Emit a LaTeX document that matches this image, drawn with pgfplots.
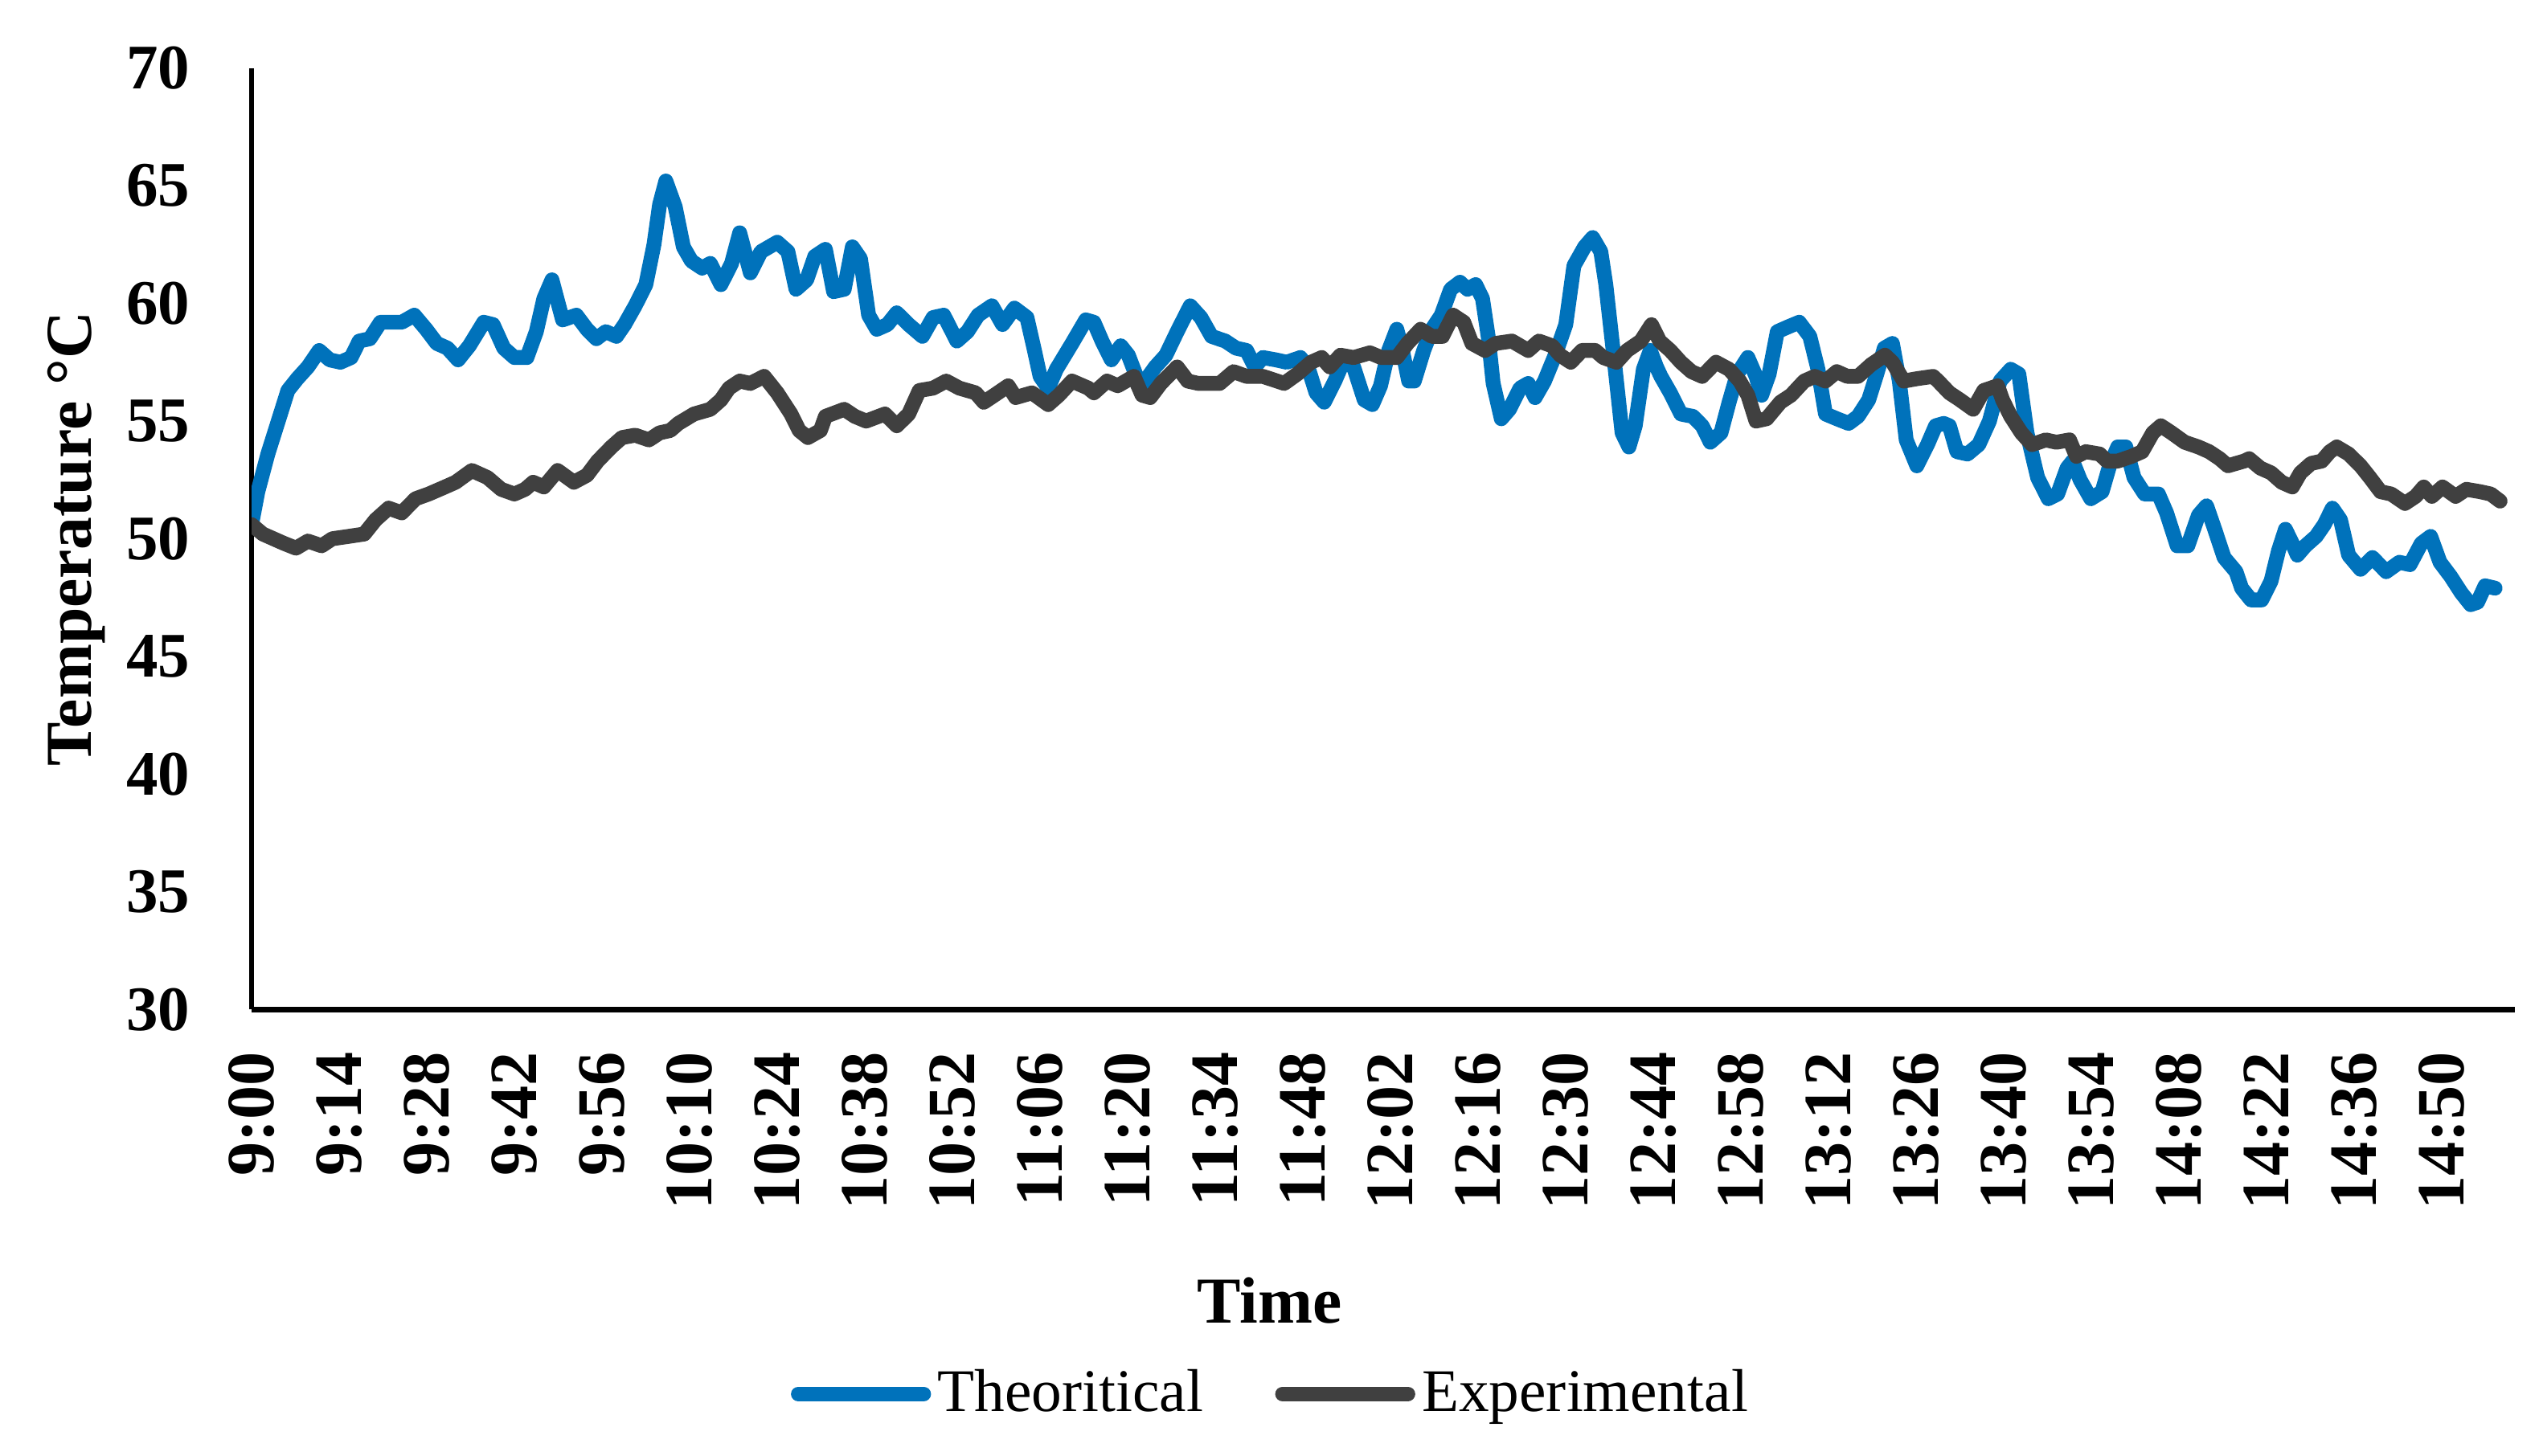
\documentclass[border=0pt]{standalone}
\usepackage{fontspec}
\setmainfont{Liberation Serif}
\usepackage{pgfplots}
\pgfplotsset{compat=1.18}
\definecolor{theo}{RGB}{0,114,187}
\definecolor{expe}{RGB}{64,64,64}
\begin{document}
\begin{tikzpicture}
\path[use as bounding box] (0,0) rectangle (600pt,344pt);
\begin{axis}[
  at={(59.45pt,105.4pt)}, anchor=south west,
  scale only axis, width=534.9pt, height=222.5pt,
  xmin=0, xmax=361.7, ymin=30, ymax=70,
  axis x line*=bottom, axis y line*=left,
  axis line style={line width=1.3pt, black, -},
  ytick={30,35,...,70},
  xtick={0,14,...,350},
  xticklabels={9:00,9:14,9:28,9:42,9:56,10:10,10:24,10:38,10:52,11:06,11:20,11:34,11:48,12:02,12:16,12:30,12:44,12:58,13:12,13:26,13:40,13:54,14:08,14:22,14:36,14:50},
  major tick length=0pt,
  tick style={draw=none},
  /pgf/number format/assume math mode=true,
  yticklabel style={font=\bfseries\fontsize{15}{18}\selectfont, inner sep=0pt, anchor=east},
  yticklabel shift=14.4pt,
  xticklabel style={font=\bfseries\fontsize{16}{19}\selectfont, rotate=90, anchor=east, inner sep=0pt},
  xticklabel shift=9.9pt,
  xlabel={Time}, ylabel={Temperature °C},
  xlabel style={at={(axis description cs:0.4497,-0.3335)}, anchor=base, font=\bfseries\fontsize{15.5}{18}\selectfont, inner sep=0pt},
  ylabel style={at={(axis description cs:-0.0709,0.5)}, anchor=base, font=\bfseries\fontsize{15.5}{18}\selectfont, inner sep=0pt},
  legend columns=2,
  legend style={at={(0.2383,-0.4085)}, anchor=west, draw=none, fill=none, inner sep=0pt, outer sep=0pt,
    font=\fontsize{14.3}{16}\selectfont, nodes={inner sep=0pt},
    /tikz/every odd column/.append style={column sep=1.6pt},
    /tikz/every even column/.append style={column sep=17pt}},
  legend image code/.code={\draw[#1, line cap=round] (0pt,0pt) -- (29.6pt,0pt);},
]
\addplot[theo, line width=3.5pt, line join=round, line cap=round] coordinates {
(0,50.6) (1,52.0) (2.6,53.6) (4.5,55.2) (5.8,56.3) (7.3,56.8) (9,57.3) (10.8,58.0) (12.5,57.6) (14.2,57.5) (15.9,57.7) (17.2,58.4) (18.9,58.5) (20.6,59.2) (22.3,59.2) (24,59.2) (26,59.5) (27.9,58.9) (29.6,58.3) (31.3,58.1) (33,57.6) (34.8,58.2) (37.1,59.2) (38.6,59.1) (40.3,58.1) (42,57.7) (44,57.7) (45.5,58.8) (46.7,60.2) (48,61.0) (49.7,59.3) (51.9,59.5) (53.6,58.9) (55.1,58.5) (56.6,58.8) (58.3,58.6) (59.6,59.1) (61.3,59.9) (63,60.8) (64.3,62.5) (65.2,64.2) (66.2,65.2) (67.7,64.1) (69,62.4) (70.3,61.8) (72,61.5) (73.3,61.7) (75,60.8) (76.7,61.7) (78,63.0) (79.7,61.3) (81.4,62.2) (84,62.6) (85.7,62.2) (87,60.6) (88.7,61.0) (90,62.0) (91.7,62.3) (93,60.5) (94.7,60.6) (96,62.4) (97.3,61.9) (98.6,59.5) (99.9,58.9) (101.6,59.1) (103.1,59.6) (105,59.1) (107.2,58.6) (108.9,59.4) (110.6,59.5) (112.7,58.4) (114.4,58.8) (116.1,59.5) (118.3,59.9) (120,59.1) (121.9,59.8) (123.9,59.4) (125.1,58.0) (126,56.9) (127.3,56.4) (128.6,57.2) (131.1,58.3) (133.3,59.3) (134.6,59.2) (135.9,58.4) (137.4,57.6) (138.9,58.2) (140.1,57.8) (141.4,56.9) (142.5,56.6) (144.4,57.3) (146.1,57.8) (147.9,58.8) (150,59.9) (151.7,59.4) (153.4,58.6) (155.6,58.4) (157.3,58.1) (159,58.0) (160.3,57.3) (161.6,57.7) (163.7,57.6) (165.4,57.5) (167.6,57.7) (168.8,57.3) (170.1,56.2) (171.4,55.8) (173.1,56.7) (174.4,57.5) (176.1,57.3) (177.8,55.9) (179.1,55.7) (180.4,56.5) (181.7,58.0) (183,58.9) (183.9,58.0) (184.9,56.7) (185.8,56.7) (187.3,58.0) (188.6,58.9) (190.1,59.5) (191.6,60.6) (193.1,60.9) (194.3,60.6) (195.6,60.8) (196.7,60.2) (197.6,58.6) (198.4,56.6) (199.7,55.1) (201,55.5) (202.7,56.4) (204,56.6) (205.1,56.0) (206.6,56.7) (208.3,57.8) (210,59.1) (211.3,61.6) (213,62.4) (214.3,62.8) (215.6,62.2) (216.4,60.8) (217.7,57.7) (219,54.5) (220.1,53.9) (221.1,54.8) (222.4,57.2) (223.5,58.0) (224.5,57.3) (225.2,56.9) (226.7,56.2) (228.4,55.3) (230.3,55.2) (231.8,54.8) (233.1,54.1) (234.8,54.5) (236.1,55.8) (237.4,57.0) (239.1,57.7) (240.4,56.9) (241.3,56.1) (242.5,57.0) (243.8,58.8) (245.5,59.0) (247.3,59.2) (249,58.6) (250.3,57.2) (251.5,55.3) (253.3,55.1) (255.2,54.9) (256.7,55.2) (258.4,55.9) (259.7,57.0) (260.9,58.1) (262.2,58.3) (263.3,56.7) (264.4,54.2) (266.1,53.1) (267.8,54.0) (269.1,54.8) (270.4,54.9) (271.3,54.8) (272.5,53.7) (274.2,53.6) (276,54.0) (277.7,55.0) (279.4,56.7) (281.1,57.2) (282.4,57.0) (283.7,54.5) (285.4,52.6) (287.1,51.7) (288.6,51.9) (290.1,53.0) (291,53.3) (292.2,52.5) (293.9,51.7) (295.7,52.0) (296.9,53.1) (298.2,53.9) (299.5,53.9) (300.8,52.6) (302.5,51.9) (304.7,51.9) (306,51.1) (307.7,49.7) (309.4,49.7) (311.1,51.0) (312.4,51.4) (313.7,50.4) (315.2,49.2) (317.1,48.6) (318,47.9) (319.5,47.4) (321.2,47.4) (322.7,48.2) (323.9,49.5) (325,50.4) (326.1,49.8) (326.9,49.3) (328.2,49.7) (329.9,50.1) (331.2,50.6) (332.5,51.3) (333.8,50.8) (335.1,49.3) (337,48.7) (338.9,49.2) (341.1,48.6) (343.2,49.0) (344.9,48.9) (346.7,49.8) (348.2,50.1) (349.7,49.0) (351.4,48.4) (353.1,47.7) (354.6,47.2) (355.7,47.3) (356.9,48.0) (358.5,47.9)
};
\addlegendentry{Theoritical}
\addplot[expe, line width=3.5pt, line join=round, line cap=round] coordinates {
(0,50.6) (1.8,50.2) (3.5,50.0) (5.2,49.8) (7.1,49.6) (9,49.9) (11.2,49.7) (12.9,50.0) (15.5,50.1) (18,50.2) (19.8,50.8) (21.9,51.3) (24,51.1) (26.2,51.7) (28.3,51.9) (30.9,52.2) (32.6,52.4) (35.2,52.9) (37.7,52.6) (39.9,52.1) (42,51.9) (43.7,52.1) (45,52.4) (46.7,52.2) (48.9,52.9) (51.5,52.4) (53.6,52.7) (55.3,53.3) (57.5,53.9) (59.2,54.3) (61.3,54.4) (63.5,54.2) (65.2,54.5) (66.9,54.6) (68.2,54.9) (70.7,55.3) (73.3,55.5) (75,55.9) (76.3,56.4) (78,56.7) (79.7,56.6) (81.9,56.9) (84,56.2) (86.2,55.3) (87.5,54.6) (88.9,54.3) (90.9,54.6) (91.7,55.2) (94.7,55.5) (96.4,55.2) (98.2,55.0) (101.2,55.3) (103.1,54.8) (105,55.3) (106.7,56.3) (108.9,56.4) (111,56.7) (113.1,56.4) (115.7,56.2) (117,55.8) (118.7,56.1) (120.9,56.5) (122.1,56.0) (124.7,56.2) (127.3,55.7) (129,56.1) (131.1,56.7) (133.7,56.4) (134.6,56.2) (136.7,56.7) (138.4,56.5) (141,56.9) (142.3,56.1) (143.6,56.0) (145.3,56.6) (147.9,57.3) (149.6,56.7) (151.3,56.6) (154.7,56.6) (156.9,57.1) (159,56.9) (161.6,56.9) (165,56.6) (167.1,57.0) (169.3,57.5) (171,57.7) (172.3,57.3) (174,57.8) (176.1,57.7) (178.7,57.9) (180.5,57.7) (183,57.7) (184.7,58.3) (186.8,58.9) (188.6,58.6) (190.3,58.6) (192,59.5) (193.7,59.2) (195,58.3) (197.1,58.0) (198.8,58.3) (201.4,58.4) (204,58.0) (205.7,58.4) (207.8,58.2) (209.1,57.8) (210.8,57.5) (212.6,58.0) (214.7,58.0) (216,57.7) (218.1,57.5) (219.8,58.0) (222,58.4) (223.7,59.1) (225,58.4) (226.7,58.0) (228.4,57.5) (230.1,57.1) (231.8,56.9) (234,57.5) (236.1,57.2) (237.8,56.7) (239.1,56.1) (240.4,55.0) (242.1,55.1) (244.3,55.8) (246,56.1) (248.1,56.7) (249.8,56.9) (251.5,56.7) (253.3,57.1) (255,56.9) (256.7,56.9) (258.8,57.4) (261,57.8) (262.2,57.5) (264,56.7) (266.1,56.8) (268.7,56.9) (269.5,56.7) (271.3,56.2) (273,55.9) (275.1,55.5) (276.8,56.3) (279,56.5) (279.8,55.9) (281.1,55.2) (282.8,54.5) (284.5,54.0) (286.7,54.2) (288.4,54.1) (290.5,54.2) (291.6,53.5) (293.1,53.7) (295.3,53.6) (296.5,53.3) (298.2,53.3) (300.4,53.5) (302.1,53.7) (303.8,54.5) (305.1,54.8) (306.8,54.5) (308.9,54.1) (311.1,53.9) (312.8,53.7) (314.5,53.4) (315.8,53.1) (318.4,53.3) (319.2,53.4) (321,53.0) (322.7,52.8) (324.4,52.4) (326.1,52.2) (327.4,52.8) (329.1,53.2) (330.8,53.3) (332.1,53.7) (333.2,53.9) (335.1,53.6) (337,53.1) (338.5,52.6) (340.2,52.0) (341.9,51.9) (344.1,51.5) (345.8,51.8) (347.1,52.2) (348.4,51.8) (350.1,52.2) (352.2,51.8) (353.9,52.1) (356.1,52.0) (357.8,51.9) (359.3,51.6)
};
\addlegendentry{Experimental}
\end{axis}
\end{tikzpicture}
\end{document}
